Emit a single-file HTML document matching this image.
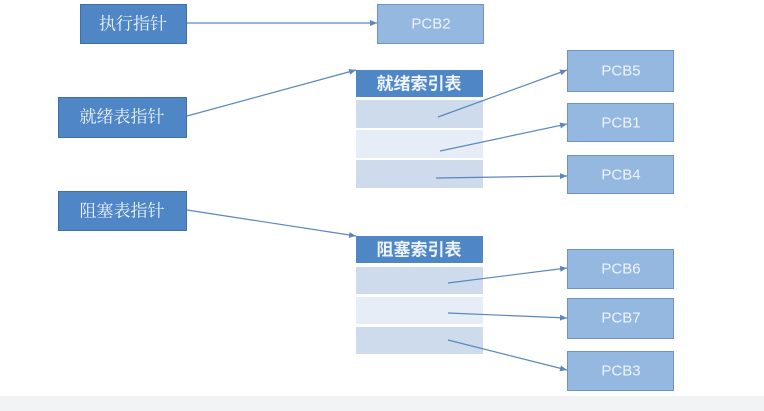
<!DOCTYPE html>
<html><head><meta charset="utf-8"><style>
html,body{margin:0;padding:0;background:#fff;width:764px;height:411px;overflow:hidden}
text{font-family:"Liberation Sans","Noto Sans CJK SC",sans-serif;fill:#eef3fa;text-anchor:middle;dominant-baseline:central}
text.s{font-family:"Liberation Serif","Noto Serif CJK SC",serif}
</style></head><body>
<svg width="764" height="411" viewBox="0 0 764 411" xmlns="http://www.w3.org/2000/svg">
<defs><marker id="a" markerWidth="8" markerHeight="8" refX="7" refY="4" orient="auto" markerUnits="userSpaceOnUse"><path d="M0,1 L7,4 L0,7 z" fill="#5b87bd"/></marker></defs>
<rect x="0" y="396" width="764" height="15" fill="#f2f3f5"/>
<g stroke="#3f6fa8" stroke-width="1" fill="#4f86c6">
<rect x="80.5" y="4.5" width="106" height="39"/>
<rect x="58.5" y="97.5" width="128" height="40"/>
<rect x="58.5" y="191.5" width="128" height="39"/>
</g>
<g font-size="17">
<text class="s" x="133" y="24">执行指针</text>
<text class="s" x="122" y="117">就绪表指针</text>
<text class="s" x="122" y="211">阻塞表指针</text>
</g>
<g stroke="#6d94c3" stroke-width="1" fill="#95b8e0">
<rect x="377.5" y="4.5" width="106" height="39"/>
<rect x="567.5" y="50.5" width="106" height="41"/>
<rect x="567.5" y="103.5" width="106" height="38"/>
<rect x="567.5" y="155.5" width="106" height="38"/>
<rect x="567.5" y="249.5" width="106" height="39"/>
<rect x="567.5" y="298.5" width="106" height="40"/>
<rect x="567.5" y="351.5" width="106" height="39"/>
</g>
<g font-size="15">
<text x="431" y="24">PCB2</text>
<text x="621" y="71">PCB5</text>
<text x="621" y="123">PCB1</text>
<text x="621" y="175">PCB4</text>
<text x="621" y="269">PCB6</text>
<text x="621" y="318">PCB7</text>
<text x="621" y="371">PCB3</text>
</g>
<rect x="356" y="70" width="127" height="27" fill="#4f86c6"/>
<rect x="356" y="100" width="127" height="28" fill="#cddbec"/>
<rect x="356" y="130" width="127" height="28" fill="#e6edf6"/>
<rect x="356" y="160" width="127" height="28" fill="#cddbec"/>
<rect x="356" y="236" width="127" height="27" fill="#4f86c6"/>
<rect x="356" y="267" width="127" height="27" fill="#cddbec"/>
<rect x="356" y="297" width="127" height="27" fill="#e6edf6"/>
<rect x="356" y="327" width="127" height="27" fill="#cddbec"/>
<g font-size="17" font-weight="bold">
<text x="419" y="84">就绪索引表</text>
<text x="419" y="250">阻塞索引表</text>
</g>
<g stroke="#5b87bd" stroke-width="1.2" fill="none" marker-end="url(#a)">
<line x1="187" y1="23" x2="377" y2="23"/>
<line x1="187" y1="116" x2="356" y2="70"/>
<line x1="187" y1="210" x2="356" y2="236"/>
<line x1="438" y1="117" x2="567" y2="70"/>
<line x1="440" y1="151" x2="567" y2="124"/>
<line x1="436" y1="178" x2="567" y2="176"/>
<line x1="448" y1="283" x2="567" y2="268"/>
<line x1="448" y1="313" x2="567" y2="318"/>
<line x1="448" y1="340" x2="567" y2="370"/>
</g>
</svg>
</body></html>
